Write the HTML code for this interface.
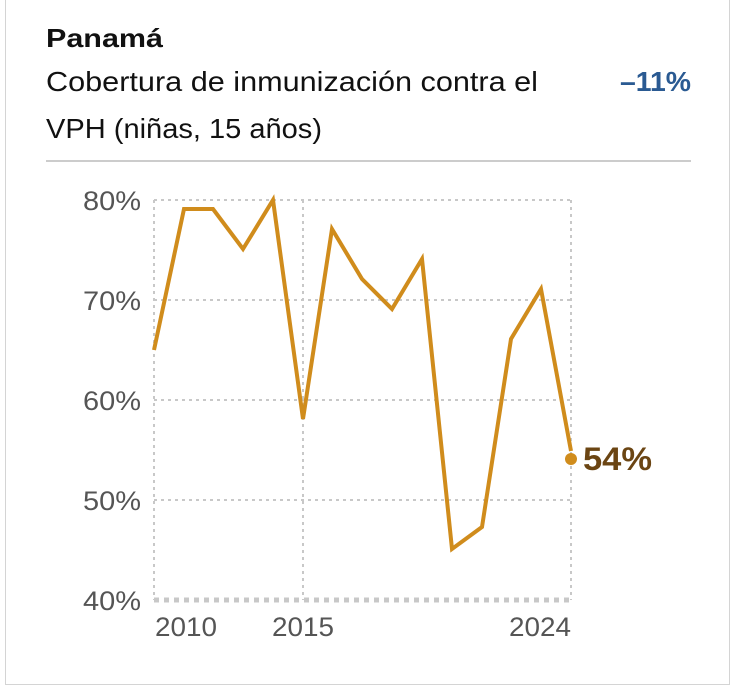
<!DOCTYPE html>
<html><head><meta charset="utf-8"><style>
body{margin:0;background:#fff;width:736px;height:690px;overflow:hidden;font-family:"Liberation Sans",sans-serif}
.card{position:absolute;left:5px;top:-2px;width:725px;height:687px;border:1.5px solid #d4d4d4;box-sizing:border-box}
</style></head><body>
<div class="card"></div>
<svg width="736" height="690" style="position:absolute;left:0;top:0" font-family="Liberation Sans, sans-serif">
<text x="46" y="47" font-size="26" font-weight="bold" fill="#111" textLength="117" lengthAdjust="spacingAndGlyphs">Panamá</text>
<text x="46" y="91" font-size="28" fill="#111" textLength="492" lengthAdjust="spacingAndGlyphs">Cobertura de inmunización contra el</text>
<text x="46" y="138" font-size="28" fill="#111" textLength="276" lengthAdjust="spacingAndGlyphs">VPH (niñas, 15 años)</text>
<text x="691" y="91" font-size="28" font-weight="bold" fill="#2a5a92" text-anchor="end" textLength="71" lengthAdjust="spacingAndGlyphs">–11%</text>
<line x1="46" y1="161" x2="691" y2="161" stroke="#ccc" stroke-width="2"/>
<g stroke="#c8c8c8" stroke-width="2" stroke-dasharray="3,4" fill="none">
<line x1="154" y1="200" x2="571" y2="200"/>
<line x1="154" y1="300" x2="571" y2="300"/>
<line x1="154" y1="400" x2="571" y2="400"/>
<line x1="154" y1="500" x2="571" y2="500"/>
<line x1="154" y1="200" x2="154" y2="600"/>
<line x1="303" y1="200" x2="303" y2="600"/>
<line x1="571" y1="200" x2="571" y2="600"/>
</g>
<line x1="154" y1="600" x2="571" y2="600" stroke="#c8c8c8" stroke-width="5" stroke-dasharray="5,5"/>
<g font-size="27" fill="#555" text-anchor="end">
<text x="141" y="210" textLength="58" lengthAdjust="spacingAndGlyphs">80%</text><text x="141" y="310" textLength="58" lengthAdjust="spacingAndGlyphs">70%</text><text x="141" y="410" textLength="58" lengthAdjust="spacingAndGlyphs">60%</text><text x="141" y="510" textLength="58" lengthAdjust="spacingAndGlyphs">50%</text><text x="141" y="610" textLength="58" lengthAdjust="spacingAndGlyphs">40%</text>
</g>
<g font-size="27" fill="#555">
<text x="155" y="636" textLength="62" lengthAdjust="spacingAndGlyphs">2010</text><text x="272" y="636" textLength="62" lengthAdjust="spacingAndGlyphs">2015</text><text x="509" y="636" textLength="62" lengthAdjust="spacingAndGlyphs">2024</text>
</g>
<polyline fill="none" stroke="#d08c1c" stroke-width="4" stroke-linejoin="miter" points="154,350 184,209 213,209 243,249 273,200 303,419 332,229 362,279 392,309 422,259 452,549 482,527 511,339 541,289 571,451"/>
<circle cx="571" cy="459" r="6" fill="#d08c1c"/>
<text x="583" y="470" font-size="32" font-weight="bold" fill="#6b4513" textLength="69" lengthAdjust="spacingAndGlyphs">54%</text>
</svg>
</body></html>
